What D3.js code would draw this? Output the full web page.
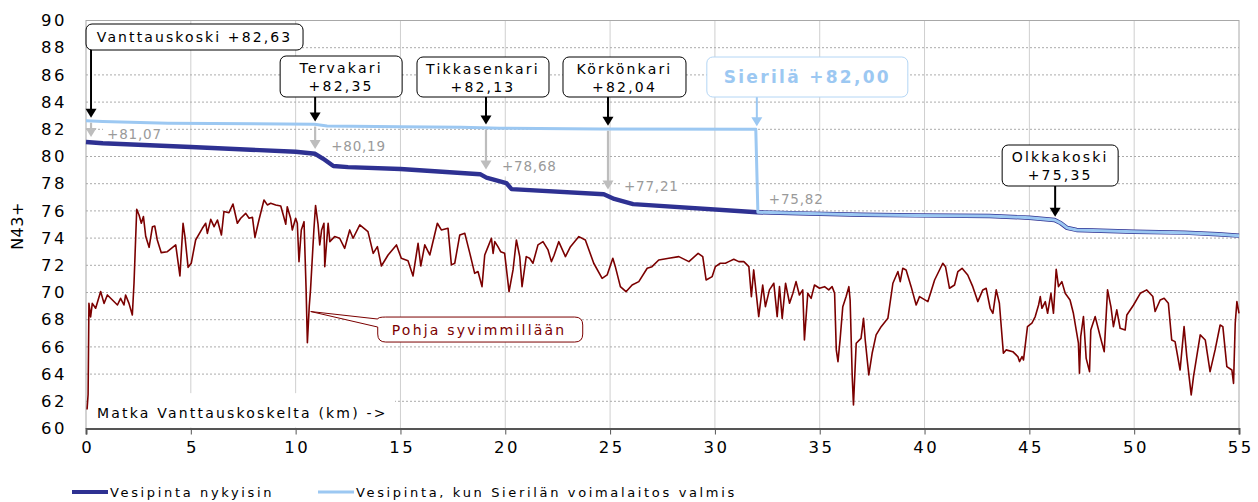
<!DOCTYPE html>
<html><head><meta charset="utf-8">
<script src="https://cdn.jsdelivr.net/npm/d3@7"></script>
<style>body{margin:0;background:#fff}svg{display:block}</style>
</head><body>
<svg id="c" width="1258" height="502"></svg>
<script>
// ---------- DATA ----------
const xTicks = [0,5,10,15,20,25,30,35,40,45,50,55];
const yTicks = [60,62,64,66,68,70,72,74,76,78,80,82,84,86,88,90];

// Water level today [km, N43+]
const currentLevel = [[0,81.07],[0.8,80.97],[5,80.7],[10,80.35],[10.93,80.2],[11.3,79.85],[11.8,79.3],[12.5,79.22],[15,79.08],[18.8,78.7],[19.1,78.45],[20.05,78.05],[20.3,77.6],[24.7,77.22],[25.2,76.88],[26.1,76.5],[32,75.9],[34,75.82],[37,75.72],[39.6,75.67],[43.1,75.63],[45,75.5],[46.2,75.33],[46.5,75.1],[46.8,74.75],[47.25,74.6],[50,74.47],[52.4,74.4],[54,74.28],[55,74.18]];

// Water level when Sierilä power plant is ready [km, N43+]
const futureLevel = [[0,82.63],[0.8,82.58],[3.9,82.45],[10.9,82.37],[11.5,82.24],[15,82.19],[17.9,82.15],[19.75,82.08],[24.5,82.03],[31.95,82.0],[32.05,75.9],[34,75.82],[37,75.72],[39.6,75.67],[43.1,75.63],[45,75.5],[46.2,75.33],[46.5,75.1],[46.8,74.75],[47.25,74.6],[50,74.47],[52.4,74.4],[54,74.28],[55,74.18]];

// River bed profile [km, N43+]
const riverBed = [[0.05,61.4],[0.1,62.5],[0.14,69.2],[0.22,68.2],[0.3,69.2],[0.46,68.84],[0.7,70.07],[0.86,69.2],[1.02,69.82],[1.26,69.45],[1.5,69.08],[1.65,69.57],[1.81,69.08],[1.89,69.82],[2.05,69.2],[2.21,68.35],[2.29,70.68],[2.42,76.12],[2.53,75.7],[2.64,75.09],[2.74,75.58],[2.85,74.11],[3.01,73.32],[3.17,74.84],[3.28,74.89],[3.4,73.86],[3.59,72.93],[3.88,73.0],[4.28,73.5],[4.48,71.22],[4.63,75.09],[4.72,74.11],[4.87,71.85],[5.02,72.15],[5.23,73.86],[5.55,74.72],[5.71,75.09],[5.79,74.35],[5.95,75.38],[6.11,74.84],[6.27,75.33],[6.46,74.23],[6.58,75.95],[6.82,75.87],[7.01,76.51],[7.22,75.09],[7.38,75.46],[7.62,75.82],[7.78,75.46],[7.94,75.53],[8.06,74.06],[8.25,75.33],[8.49,76.8],[8.65,76.44],[8.81,76.56],[9.05,76.44],[9.29,76.36],[9.41,75.7],[9.53,75.02],[9.6,76.31],[9.76,75.46],[9.84,74.6],[10.0,75.46],[10.08,75.09],[10.16,72.27],[10.27,74.6],[10.4,75.21],[10.5,70.2],[10.56,66.3],[10.65,69.0],[10.71,70.19],[10.87,74.6],[10.95,76.4],[11.07,75.0],[11.15,73.5],[11.24,74.6],[11.35,75.09],[11.39,71.9],[11.55,75.09],[11.63,73.74],[11.86,74.11],[12.1,73.99],[12.34,73.25],[12.58,74.6],[12.74,73.99],[13.06,74.97],[13.45,74.48],[13.7,72.88],[13.9,73.37],[14.09,71.95],[14.41,72.76],[14.81,73.5],[15.04,72.52],[15.36,72.34],[15.6,71.22],[15.84,73.62],[15.97,71.95],[16.16,73.5],[16.4,72.76],[16.76,75.09],[16.95,74.6],[17.27,74.72],[17.43,72.03],[17.59,72.15],[17.83,74.23],[18.07,74.35],[18.31,72.88],[18.54,71.41],[18.7,71.54],[18.89,70.43],[19.02,72.76],[19.18,73.37],[19.34,73.99],[19.42,72.88],[19.5,73.74],[19.65,73.37],[19.78,73.0],[19.97,72.88],[20.18,70.06],[20.37,71.66],[20.53,73.86],[20.69,72.64],[20.8,70.43],[21.0,72.64],[21.16,72.52],[21.32,72.15],[21.56,73.5],[21.8,73.74],[22.04,73.13],[22.2,72.27],[22.32,72.7],[22.55,73.74],[22.87,72.64],[23.11,73.37],[23.51,74.11],[23.82,73.86],[24.22,72.15],[24.62,71.04],[24.86,71.29],[25.13,72.52],[25.25,71.9],[25.49,70.43],[25.76,70.06],[26.05,70.55],[26.37,70.8],[26.77,71.78],[27.0,71.9],[27.32,72.39],[27.8,72.52],[28.28,72.64],[28.76,72.27],[29.2,72.88],[29.42,72.64],[29.58,70.92],[29.87,71.17],[30.02,71.9],[30.26,72.15],[30.5,72.15],[30.66,72.27],[30.9,72.44],[31.14,72.27],[31.38,72.27],[31.62,71.9],[31.74,69.7],[31.85,71.66],[32.09,68.23],[32.28,70.55],[32.41,68.96],[32.6,70.19],[32.81,70.68],[32.97,68.23],[33.08,70.43],[33.21,68.1],[33.37,70.68],[33.56,69.21],[33.72,69.94],[33.87,70.8],[34.03,69.82],[34.19,70.19],[34.27,66.51],[34.43,69.94],[34.59,69.57],[34.75,70.55],[34.99,70.31],[35.23,70.43],[35.43,70.19],[35.59,70.43],[35.71,69.94],[35.79,65.78],[35.87,64.92],[35.97,66.51],[36.1,68.96],[36.26,69.7],[36.39,70.43],[36.45,69.45],[36.55,63.81],[36.61,61.73],[36.74,66.27],[36.97,66.63],[37.09,68.1],[37.17,66.51],[37.34,63.94],[37.5,65.53],[37.69,66.88],[37.93,67.49],[38.25,68.1],[38.49,70.68],[38.73,71.54],[38.84,70.8],[38.96,71.78],[39.12,71.66],[39.36,70.43],[39.6,69.08],[39.76,69.7],[40.16,69.33],[40.48,70.92],[40.87,72.15],[41.0,71.9],[41.19,70.31],[41.43,70.55],[41.59,71.54],[41.79,71.78],[42.06,71.29],[42.3,70.43],[42.54,69.33],[42.78,70.19],[42.94,70.31],[43.13,68.84],[43.26,68.47],[43.42,70.19],[43.57,69.21],[43.76,65.53],[43.89,65.78],[44.21,65.65],[44.45,65.29],[44.53,64.92],[44.65,65.29],[44.72,65.04],[44.91,67.49],[45.12,67.74],[45.28,68.23],[45.44,69.08],[45.52,69.7],[45.6,68.84],[45.76,69.33],[45.87,68.47],[46.03,69.94],[46.15,68.47],[46.28,71.71],[46.39,70.43],[46.55,70.8],[46.71,69.94],[46.94,69.45],[47.1,68.47],[47.34,66.27],[47.39,64.06],[47.45,66.76],[47.58,68.23],[47.71,65.16],[47.87,64.18],[47.93,67.25],[48.14,68.23],[48.38,66.76],[48.57,65.65],[48.73,70.19],[48.89,68.96],[49.01,67.49],[49.17,68.72],[49.33,67.37],[49.57,67.25],[49.65,68.35],[49.97,69.08],[50.29,69.94],[50.6,70.19],[50.89,69.7],[51.0,68.6],[51.24,69.45],[51.43,69.57],[51.63,69.21],[51.79,66.51],[51.95,66.39],[52.19,64.3],[52.38,67.49],[52.51,65.29],[52.72,62.47],[52.83,63.81],[53.15,66.88],[53.39,66.51],[53.62,64.18],[53.86,65.78],[54.1,67.61],[54.23,67.49],[54.42,64.55],[54.66,64.3],[54.74,63.32],[54.82,67.74],[54.9,69.33],[55.0,68.47]];

// Annotated places
const placeNames  = ["Vanttauskoski","Tervakari","Tikkasenkari","Körkönkari","Sierilä","Olkkakoski"];
const placeKm     = [0.24, 10.93, 19.08, 24.9, 32.0, 46.23];
const placeNew    = ["+82,63","+82,35","+82,13","+82,04","+82,00","+75,35"];
const placeNewVal = [82.63, 82.35, 82.13, 82.04, 82.00, 75.35];
const placeOld    = ["+81,07","+80,19","+78,68","+77,21","+75,82",null];
const placeOldVal = [81.07, 80.19, 78.68, 77.21, 75.82, null];

const deepestKm = 10.72, deepestVal = 68.6;
const legendLabels = ["Vesipinta nykyisin","Vesipinta, kun Sierilän voimalaitos valmis"];

// ---------- LAYOUT ----------
const m = {l:86, r:1239, t:20.5, b:428.5};
const FONT = "'DejaVu Sans', Verdana, sans-serif";
const C = {dark:"#2E3192", light:"#9CC8F2", bed:"#7B0000", gray:"#BDBDBD", grayText:"#9A9A9A"};
const boxLayout = [
  {dx:-5,  w:217, top:24,  h:26, single:true},
  {dx:-35, w:122, top:56,  h:41},
  {dx:-69, w:132, top:57,  h:40},
  {dx:-45, w:123, top:57,  h:40},
  {dx:-50, w:201, top:57,  h:40, single:true, sierila:true},
  {dx:-53, w:116, top:145, h:41}
];

const svg = d3.select("#c");
const x = d3.scaleLinear().domain([0,55]).range([m.l,m.r]);
const y = d3.scaleLinear().domain([60,90]).range([m.b,m.t]);

// gridlines
svg.append("g").selectAll("line").data(xTicks.filter(d=>d>0&&d<55)).join("line")
  .attr("x1",d=>x(d)).attr("x2",d=>x(d)).attr("y1",m.t).attr("y2",m.b)
  .attr("stroke","#cfcfcf").attr("stroke-width",1);
svg.append("g").selectAll("line").data(yTicks.filter(d=>d>60&&d<90)).join("line")
  .attr("x1",m.l).attr("x2",m.r).attr("y1",d=>y(d)).attr("y2",d=>y(d))
  .attr("stroke","#ababab").attr("stroke-width",1).attr("stroke-dasharray","2,2");
svg.append("rect").attr("x",m.l).attr("y",m.t).attr("width",m.r-m.l).attr("height",m.b-m.t)
  .attr("fill","none").attr("stroke","#a8a8a8").attr("stroke-width",1);

// axes
const xAxis = svg.append("g").attr("transform",`translate(0,${m.b})`)
  .call(d3.axisBottom(x).tickValues(xTicks).tickSize(6).tickPadding(7).tickFormat(d=>d));
xAxis.select(".domain").attr("stroke","#555").attr("stroke-width",2);
xAxis.selectAll(".tick line").attr("stroke","#555");
xAxis.selectAll("text").attr("font-family",FONT).attr("font-size",16.5).attr("letter-spacing","2.5px").attr("fill","#000")
  .attr("dx","1.2px");
const yAxis = svg.append("g").attr("transform",`translate(${m.l},0)`)
  .call(d3.axisLeft(y).tickValues(yTicks).tickSize(0).tickPadding(19).tickFormat(d=>d));
yAxis.select(".domain").remove();
yAxis.selectAll("text").attr("font-family",FONT).attr("font-size",16.5).attr("letter-spacing","2.5px").attr("fill","#000");

svg.append("text").attr("transform",`translate(23,226) rotate(-90)`).attr("text-anchor","middle")
  .attr("font-family",FONT).attr("font-size",16).attr("letter-spacing","0.5px").text("N43+");

// distance text box
const matka = svg.append("g");
matka.append("rect").attr("x",m.l+1).attr("y",y(62.6)).attr("width",308).attr("height",m.b-y(62.6)-1).attr("fill","#fff");
matka.append("text").attr("x",97).attr("y",y(60)-11).attr("font-family",FONT).attr("font-size",14)
  .attr("letter-spacing","2.2px").text("Matka Vanttauskoskelta (km) ->");

// gray label backgrounds
const oldIdx = placeOld.map((d,i)=>i).filter(i=>placeOld[i]);
const oldLabelPos = i => ({
  lx: x(placeKm[i]) + (i===4 ? 12 : 16),
  ly: y(placeOldVal[i]) - (i===4 ? 9 : 3)
});
svg.append("g").selectAll("rect").data(oldIdx).join("rect")
  .attr("x",i=>oldLabelPos(i).lx-4).attr("y",i=>oldLabelPos(i).ly-13)
  .attr("width",62).attr("height",18).attr("fill","#fff");

// lines
const line = d3.line().x(d=>x(d[0])).y(d=>y(d[1]));
svg.append("path").datum(riverBed).attr("d",line).attr("fill","none").attr("stroke",C.bed).attr("stroke-width",1.6).attr("stroke-linejoin","round");
svg.append("path").datum(currentLevel).attr("d",line).attr("fill","none").attr("stroke",C.dark).attr("stroke-width",4.4).attr("stroke-linejoin","round");
svg.append("path").datum(futureLevel).attr("d",line).attr("fill","none").attr("stroke",C.light).attr("stroke-width",3).attr("stroke-linejoin","round");

function arrow(px, y0, y1, color, lw, hw, hh){
  const g = svg.append("g");
  g.append("line").attr("x1",px).attr("x2",px).attr("y1",y0).attr("y2",y1-hh+1).attr("stroke",color).attr("stroke-width",lw);
  g.append("path").attr("d",`M${px-hw/2},${y1-hh} L${px+hw/2},${y1-hh} L${px},${y1} Z`).attr("fill",color);
}

oldIdx.filter(i=>i!==4).forEach(i=>{
  arrow(x(placeKm[i]), y(placeNewVal[i])+2, y(placeOldVal[i])-5, C.gray, 2.2, 11, 9);
});
svg.append("g").selectAll("text").data(oldIdx).join("text")
  .attr("x",i=>oldLabelPos(i).lx).attr("y",i=>oldLabelPos(i).ly)
  .attr("font-family",FONT).attr("font-size",13.5).attr("letter-spacing","0.8px").attr("fill",C.grayText)
  .text(i=>placeOld[i]);

placeNames.forEach((name,i)=>{
  const L = boxLayout[i];
  const ax = x(placeKm[i]);
  const bx = ax + L.dx;
  const col = L.sierila ? C.light : "#000";
  arrow(ax, L.top+L.h, y(placeNewVal[i])-3, col, 2, 11, 9);
  svg.append("rect").attr("x",bx).attr("y",L.top).attr("width",L.w).attr("height",L.h).attr("rx",6)
    .attr("fill","#fff").attr("stroke", L.sierila ? "#B4D6F5" : "#000").attr("stroke-width",1);
  const cx = bx + L.w/2;
  if (L.sierila){
    svg.append("text").attr("x",cx).attr("y",L.top+26).attr("text-anchor","middle").attr("font-family",FONT)
      .attr("font-size",17).attr("font-weight","bold").attr("letter-spacing","2.3px").attr("fill",C.light)
      .text(name+" "+placeNew[i]);
  } else if (L.single){
    svg.append("text").attr("x",cx).attr("y",L.top+18).attr("text-anchor","middle").attr("font-family",FONT)
      .attr("font-size",14).attr("letter-spacing","2.1px").text(name+" "+placeNew[i]);
  } else {
    const t = svg.append("text").attr("text-anchor","middle").attr("font-family",FONT).attr("font-size",14).attr("letter-spacing","2.2px");
    t.append("tspan").attr("x",cx).attr("y",L.top+17).text(name);
    t.append("tspan").attr("x",cx).attr("y",L.top+35).text(placeNew[i]);
  }
});

// callout "Pohja syvimmillään"
const tx = x(deepestKm), ty = y(deepestVal);
const bl = tx+67, bt = ty+5.5, bw = 205, bh = 25, r = 8;
svg.append("path").attr("d",
  `M${bl+r},${bt} H${bl+bw-r} Q${bl+bw},${bt} ${bl+bw},${bt+r} V${bt+bh-r} Q${bl+bw},${bt+bh} ${bl+bw-r},${bt+bh} H${bl+r} Q${bl},${bt+bh} ${bl},${bt+bh-r} V${bt+10} L${tx},${ty} L${bl},${bt+2} Q${bl},${bt} ${bl+r},${bt} Z`)
  .attr("fill","#fff").attr("stroke",C.bed).attr("stroke-width",1);
svg.append("text").attr("x",bl+14).attr("y",bt+18).attr("font-family",FONT).attr("font-size",14)
  .attr("letter-spacing","2.2px").attr("fill",C.bed).text("Pohja syvimmillään");

// legend
const lg = svg.append("g");
[[72,C.dark,4],[318,C.light,3]].forEach(([lx,col,w],i)=>{
  lg.append("line").attr("x1",lx).attr("x2",lx+36).attr("y1",492).attr("y2",492).attr("stroke",col).attr("stroke-width",w);
  lg.append("text").attr("x",lx+38).attr("y",497).attr("font-family",FONT).attr("font-size",13)
    .attr("letter-spacing","2.65px").text(legendLabels[i]);
});
</script>
</body></html>
